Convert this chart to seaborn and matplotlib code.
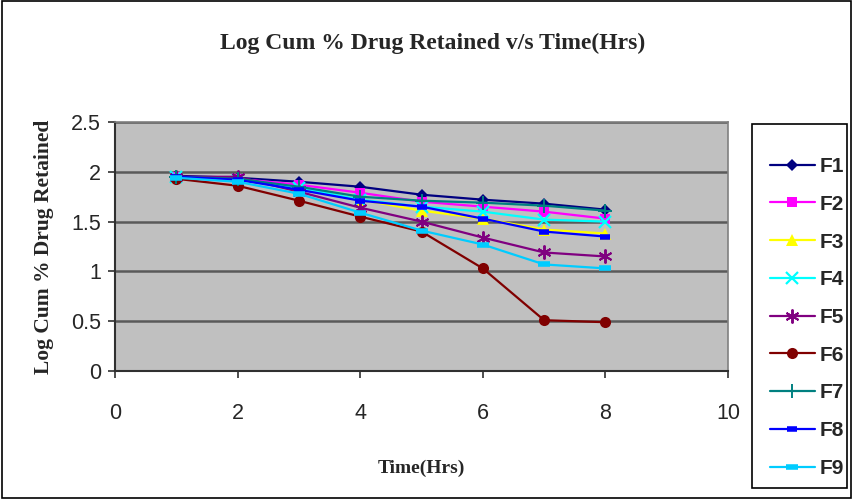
import numpy as np
import pandas as pd
import matplotlib
matplotlib.use("Agg")
import matplotlib.pyplot as plt
import seaborn as sns

# Release data: log cumulative % drug retained per formulation
time_hrs = [1, 2, 3, 4, 5, 6, 7, 8]
F1 = [1.96, 1.94, 1.90, 1.85, 1.77, 1.72, 1.68, 1.62]
F2 = [1.95, 1.93, 1.87, 1.79, 1.70, 1.65, 1.60, 1.53]
F3 = [1.95, 1.92, 1.84, 1.72, 1.61, 1.53, 1.42, 1.38]
F4 = [1.95, 1.92, 1.84, 1.72, 1.65, 1.60, 1.52, 1.50]
F5 = [1.95, 1.95, 1.80, 1.64, 1.50, 1.34, 1.19, 1.15]
F6 = [1.93, 1.86, 1.71, 1.55, 1.40, 1.03, 0.51, 0.49]
F7 = [1.95, 1.93, 1.85, 1.75, 1.71, 1.69, 1.66, 1.61]
F8 = [1.95, 1.92, 1.82, 1.71, 1.65, 1.53, 1.40, 1.35]
F9 = [1.94, 1.90, 1.78, 1.59, 1.41, 1.27, 1.07, 1.03]

names = ["F1", "F2", "F3", "F4", "F5", "F6", "F7", "F8", "F9"]
series = [F1, F2, F3, F4, F5, F6, F7, F8, F9]

x_ticks = [0, 2, 4, 6, 8, 10]
y_ticks = [0, 0.5, 1, 1.5, 2, 2.5]

df = pd.DataFrame({
    "Time": np.tile(time_hrs, len(names)),
    "Value": np.concatenate(series),
    "Formulation": np.repeat(names, len(time_hrs)),
})

styles = {
    "F1": dict(color="#000080", marker="D", ms=6, mew=0),
    "F2": dict(color="#FF00FF", marker="s", ms=6.5, mew=0),
    "F3": dict(color="#FFFF00", marker="^", ms=8, mew=0),
    "F4": dict(color="#00FFFF", marker="x", ms=8, mew=1.6),
    "F5": dict(color="#800080", marker=(6, 2, 0), ms=10, mew=1.4),
    "F6": dict(color="#800000", marker="o", ms=8, mew=0),
    "F7": dict(color="#008080", marker="+", ms=10, mew=1.4),
    "F8": dict(color="#0000FF", marker="_", ms=7, mew=4),
    "F9": dict(color="#00CCFF", marker="_", ms=9, mew=4),
}

sns.set_style("white")
plt.rcParams["font.family"] = ["Liberation Sans", "DejaVu Sans"]

fig = plt.figure(figsize=(8.53, 4.99), dpi=100)
ax = fig.add_axes([0.1348, 0.2565, 0.8535 - 0.1348, 0.7555 - 0.2565])
ax.set_facecolor("#C0C0C0")

for name in names:
    st = styles[name]
    sns.lineplot(
        data=df[df["Formulation"] == name], x="Time", y="Value",
        ax=ax, color=st["color"], marker=st["marker"],
        markersize=st["ms"], markeredgewidth=st["mew"],
        markeredgecolor=st["color"], markerfacecolor=st["color"],
        linewidth=1.6, label=name, errorbar=None, zorder=3,
    )

ax.set_xlim(0, 10)
ax.set_ylim(0, 2.5)
ax.set_xticks(x_ticks)
ax.set_yticks(y_ticks)
ax.set_xticklabels([f"{t:g}" for t in x_ticks])
ax.set_yticklabels([f"{t:g}" for t in y_ticks])
ax.yaxis.grid(True, color="#5A5A5A", linewidth=1.8, zorder=1)
ax.xaxis.grid(False)
ax.set_axisbelow(True)

for side in ["top", "right"]:
    ax.spines[side].set_color("#808080")
    ax.spines[side].set_linewidth(1.2)
for side in ["left", "bottom"]:
    ax.spines[side].set_color("#303030")
    ax.spines[side].set_linewidth(1.5)

ax.tick_params(axis="both", direction="out", length=5, width=1.2,
               color="#303030", labelsize=15.5, left=True, bottom=True)
ax.tick_params(axis="y", pad=5)
ax.tick_params(axis="x", pad=18)

serif = ["Liberation Serif", "DejaVu Serif"]
ax.set_xlabel("Time(Hrs)", fontsize=14, fontweight="bold", family=serif,
              labelpad=26)
ax.set_ylabel("Log Cum % Drug Retained", fontsize=15.5, fontweight="bold",
              family=serif, labelpad=12)
fig.text(0.507, 0.913, "Log Cum % Drug Retained v/s Time(Hrs)",
         ha="center", va="center", fontsize=17, fontweight="bold",
         family=serif)

leg = ax.legend(
    loc="upper left", bbox_to_anchor=(0.9027, 1 - 157 / 499),
    bbox_transform=fig.transFigure, frameon=False,
    prop={"family": ["Liberation Sans"], "weight": "bold", "size": 15},
    handlelength=2.15, handletextpad=0.25, labelspacing=0.9,
    borderpad=0, borderaxespad=0,
)

# Legend box
fig.patches.append(plt.Rectangle((752 / 853, 1 - 488 / 499),
                                 95 / 853, 364 / 499,
                                 transform=fig.transFigure, fill=False,
                                 edgecolor="black", linewidth=1.2))

# Outer chart border
fig.patches.append(plt.Rectangle((0.002, 0.003), 0.996, 0.994,
                                 transform=fig.transFigure, fill=False,
                                 edgecolor="black", linewidth=1.2))

fig.savefig("out.png", dpi=100, facecolor="white")
